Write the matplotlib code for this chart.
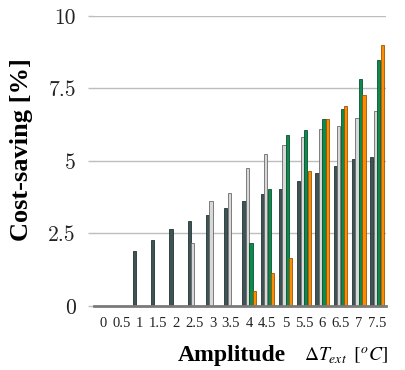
import numpy as np
import matplotlib
matplotlib.use('Agg')
import matplotlib.pyplot as plt

# amplitude steps and cost saving per configuration
amplitudes = ['0', '0.5', '1', '1.5', '2', '2.5', '3', '3.5',
              '4', '4.5', '5', '5.5', '6', '6.5', '7', '7.5']
dark = [0, 0, 1.90, 2.26, 2.67, 2.92, 3.15, 3.39,
        3.63, 3.86, 4.04, 4.30, 4.59, 4.83, 5.07, 5.13]
light = [0, 0, 0, 0, 0, 2.18, 3.62, 3.89,
         4.77, 5.25, 5.54, 5.84, 6.09, 6.20, 6.49, 6.73]
green = [0, 0, 0, 0, 0, 0, 0, 0,
         2.18, 4.04, 5.91, 6.08, 6.44, 6.79, 7.82, 8.48]
orange = [0, 0, 0, 0, 0, 0, 0, 0,
          0.52, 1.13, 1.66, 4.66, 6.44, 6.91, 7.28, 9.01]

series = [
    (dark, '#3e5353', '#243333'),
    (light, '#d8d8d8', '#6a6a6a'),
    (green, '#0e8a4e', '#0a5230'),
    (orange, '#ff8c00', '#9a5500'),
]

plt.rcParams['mathtext.fontset'] = 'stix'
fig = plt.figure(figsize=(4.06, 3.70), dpi=100)
ax = fig.add_axes([0.2315, 0.173, 0.7195, 0.784])

x = np.arange(len(amplitudes))
w = 0.19
for k, (vals, fc, ec) in enumerate(series):
    vals = np.array(vals)
    mask = vals > 0
    ax.bar(x[mask] + (k - 1.5) * w, vals[mask], width=w * 0.92,
           color=fc, edgecolor=ec, linewidth=0.6, zorder=3)

ax.set_xlim(-0.5, len(amplitudes) - 0.5)
ax.set_ylim(0, 10)
ax.set_yticks([0, 2.5, 5, 7.5, 10])
ax.set_yticklabels(['0', '2.5', '5', '7.5', '10'], fontfamily='cmr10', fontsize=15.5)
ax.set_xticks(x)
ax.set_xticklabels(amplitudes, fontfamily='Liberation Serif', fontsize=10.5)

ax.grid(axis='y', color='#bdbdbd', linewidth=1.0, zorder=0)
for s in ['top', 'right', 'left']:
    ax.spines[s].set_visible(False)
ax.spines['bottom'].set_color('#7a7a7a')
ax.spines['bottom'].set_linewidth(2)
ax.spines['bottom'].set_zorder(4)
ax.tick_params(axis='x', length=0, pad=8, colors='#222222')
ax.tick_params(axis='y', length=4, width=1, color='#bdbdbd', pad=9, colors='#222222')
for t in ax.get_yticklabels():
    t.set_color('#222222')

fig.text(0.052, 0.597, 'Cost-saving [%]', rotation=90, ha='center', va='center',
         fontfamily='Liberation Serif', fontweight='bold', fontsize=19)
fig.text(0.57, 0.025, 'Amplitude', ha='center', va='baseline',
         fontfamily='Liberation Serif', fontweight='bold', fontsize=17)
fig.text(0.75, 0.025, r'$\Delta T_{ext}\;\;[^oC]$', ha='left', va='baseline',
         fontfamily='Liberation Serif', fontsize=14)

fig.savefig('out.png', dpi=100)
